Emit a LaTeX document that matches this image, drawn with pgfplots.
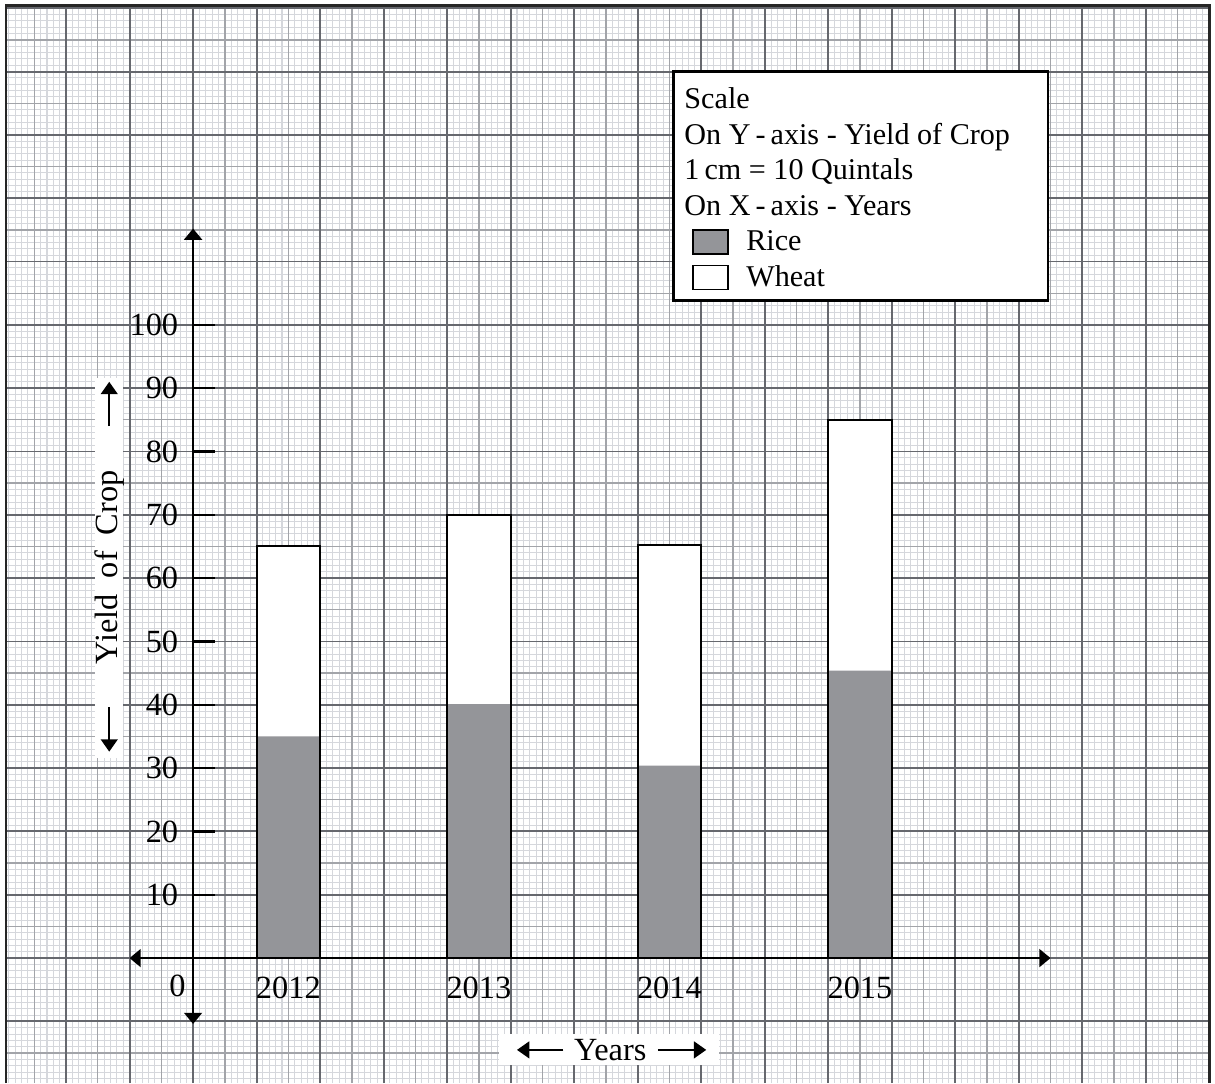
\documentclass[border=0pt]{standalone}
\usepackage{fontspec}
\setmainfont{Liberation Serif}
\usepackage{pgfplots}
\usepackage{pgfplotstable}
\pgfplotsset{compat=1.18}
\usetikzlibrary{arrows.meta}

\definecolor{gridfine}{RGB}{213,215,220}
\definecolor{gridmid}{RGB}{162,164,169}
\definecolor{gridmajor}{RGB}{102,104,110}
\definecolor{ricegray}{RGB}{148,149,153}

% yield of crop (quintals): rice and rice+wheat
\pgfplotstableread{
x     rice  total
1.5   35.0  65.0
4.5   40.1  70.0
7.5   30.4  65.2
10.5  45.4  85.0
}\yielddata

\tikzset{titlearrow/.style={line width=0.85pt, -{Triangle[length=5.5pt,width=7.5pt]}}}

% one layer of graph paper: same frame for every layer
\pgfplotsset{paperlayer/.style={
  x=1cm, y=0.0997cm,
  xmin=-3.04, xmax=16.09, ymin=-19.75, ymax=151.3,
  axis line style={draw=none},
  xticklabels={}, yticklabels={},
  major tick length=0pt, minor tick length=0pt,
  grid=major}}

\begin{document}
\begin{tikzpicture}
% 1 mm lines
\begin{axis}[name=fine, paperlayer,
  xtick={-3,-2.9,...,16}, ytick={-19,-18,...,151},
  major grid style={gridfine, line width=0.45pt}]
\end{axis}
% 5 mm lines
\begin{axis}[at={(fine.south west)}, anchor=south west, paperlayer,
  xtick={-2.5,-1.5,...,15.5}, ytick={-15,-5,...,145},
  major grid style={gridmid, line width=0.6pt}]
\end{axis}
% 1 cm lines and the bars
\begin{axis}[name=paper, at={(fine.south west)}, anchor=south west, paperlayer,
  xtick={-3,-2,...,16}, ytick={-10,0,...,150},
  major grid style={gridmajor, line width=0.85pt},
  ybar, bar width=1cm, bar shift=0pt,
  reverse legend,
  legend style={draw=none, fill=none, inner sep=0pt, outer sep=0pt,
    row sep=0pt, column sep=0.28cm,
    font=\fontsize{13.5}{16}\selectfont,
    nodes={inner sep=0pt, text height=11.9pt, text depth=4pt},
    cells={anchor=west},
    at={(axis cs:7.86,115.9)}, anchor=north west},
  legend image code/.code={\draw[#1, draw=black, line width=0.6pt] (0cm,-0.19cm) rectangle (0.55cm,0.19cm);},
]
\addplot[fill=white, draw=black, line width=0.9pt] table[x=x, y=total] {\yielddata};
\addlegendentry{Wheat}
\addplot[fill=ricegray, draw=none] table[x=x, y=rice] {\yielddata};
\addlegendentry{Rice}
\addplot[fill=none, draw=black, line width=0.9pt, forget plot] table[x=x, y=total] {\yielddata};

% blank margin outside the graph paper, then its frame
\fill[white] (axis cs:-3.04,-19.75) rectangle (axis cs:-2.945,151.3);
\fill[white] (axis cs:-3.04,150.4) rectangle (axis cs:16.09,151.3);
\fill[white] (axis cs:16,-19.75) rectangle (axis cs:16.09,151.3);
\draw[line width=1.1pt, black!85] (axis cs:-2.945,-19.75) -- (axis cs:-2.945,150.4)
  -- (axis cs:16,150.4) -- (axis cs:16,-19.75);

% scale box
\draw[line width=1.2pt, fill=white] (axis cs:7.56,103.8) rectangle (axis cs:13.46,140.0);
\node[anchor=north west, inner sep=0pt, align=left, font=\fontsize{13.5}{16.1}\selectfont]
  at (axis cs:7.73,137.6) {Scale\\On Y\,-\,axis - Yield of Crop\\1\,cm = 10 Quintals\\On X\,-\,axis - Years};

% y axis title
\fill[white] (axis cs:-1.543,31.6) rectangle (axis cs:-1.102,91.6);
\node[rotate=90, inner sep=0pt, font=\fontsize{14.5}{16}\selectfont]
  at (axis cs:-1.32,61.7) {Yield\hspace{0.5em}of\hspace{0.5em}Crop};
\draw[titlearrow] (axis cs:-1.32,84.0) -- (axis cs:-1.32,91.0);
\draw[titlearrow] (axis cs:-1.32,39.6) -- (axis cs:-1.32,32.6);

% x axis title
\fill[white] (axis cs:4.82,-16.9) rectangle (axis cs:8.28,-12.0);
\node[inner sep=0pt, font=\fontsize{14.5}{16}\selectfont] at (axis cs:6.57,-14.45) {Years};
\draw[titlearrow] (axis cs:5.83,-14.5) -- (axis cs:5.10,-14.5);
\draw[titlearrow] (axis cs:7.32,-14.5) -- (axis cs:8.08,-14.5);
\end{axis}

\begin{axis}[at={(paper.origin)}, anchor=origin,
  x=1cm, y=0.0997cm,
  xmin=-1, xmax=13.5, ymin=-10.4, ymax=115.2,
  axis lines*=middle,
  axis line style={line width=1pt, black,
    {Triangle[length=5pt,width=8pt]}-{Triangle[length=5pt,width=8pt]}},
  xtick={1.5,4.5,7.5,10.5}, xticklabels={2012,2013,2014,2015},
  ytick={10,20,...,100},
  x tick style={draw=none},
  y tick style={black, line width=1pt},
  tick align=inside, major tick length=0.35cm,
  tick label style={font=\fontsize{14.5}{16}\selectfont, inner sep=0pt},
  xticklabel style={yshift=-8.3pt},
  yticklabel style={xshift=-6.5pt},
  /pgf/number format/assume math mode=true,
  clip=false,
]
\node[anchor=north east, inner sep=0pt, font=\fontsize{14.5}{16}\selectfont] at (axis cs:-0.11,-2.6) {0};
\end{axis}

\pgfresetboundingbox
\path[use as bounding box] (fine.south west) rectangle (fine.north east);
\end{tikzpicture}
\end{document}
